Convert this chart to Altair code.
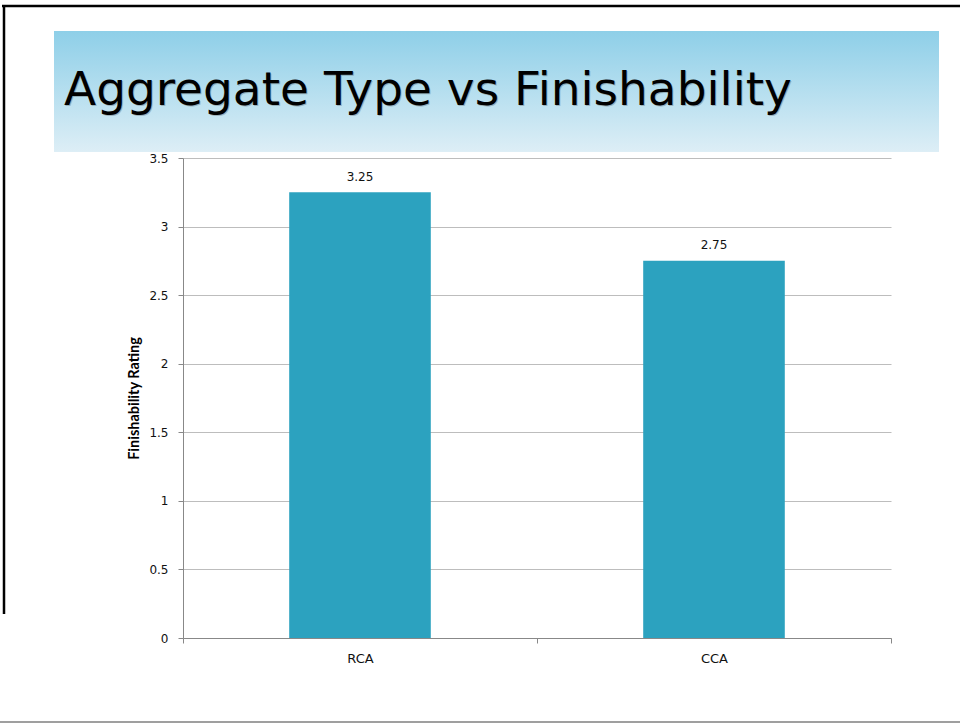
import altair as alt
import pandas as pd

# Chart content
aggregates = ["RCA", "CCA"]
ratings = [3.25, 2.75]
rating_ticks = [0, 0.5, 1, 1.5, 2, 2.5, 3, 3.5]
slide_title = "Aggregate Type vs Finishability"
rating_title = "Finishability Rating"

df = pd.DataFrame({"aggregate": aggregates, "rating": ratings})
title_df = pd.DataFrame({"label": [slide_title]})

# Plot area geometry inside the 960x723 slide
PLOT_W, PLOT_H = 708, 480
PAD = {"left": 183, "top": 158, "right": 69, "bottom": 85}

BAR_COLOR = "#2ca2bf"
AXIS_GREY = "#888888"
TEXT_FONT = "DejaVu Sans"

x_enc = alt.X(
    "aggregate:N",
    sort=aggregates,
    scale=alt.Scale(paddingInner=0, paddingOuter=0),
    axis=alt.Axis(
        title=None,
        labelAngle=0,
        tickBand="extent",
        tickSize=5,
        tickColor=AXIS_GREY,
        domainColor=AXIS_GREY,
        labelPadding=9,
        labelFontSize=13,
        labelFont=TEXT_FONT,
        labelColor="#111111",
        grid=False,
    ),
)

y_enc = alt.Y(
    "rating:Q",
    scale=alt.Scale(domain=[0, 3.5], nice=False),
    axis=alt.Axis(
        values=rating_ticks,
        format="~g",
        title=rating_title,
        titleFont="Lato",
        titleFontWeight="bold",
        titleFontSize=14.5,
        titleColor="#000000",
        titlePadding=7,
        labelFont=TEXT_FONT,
        labelFontSize=12,
        labelColor="#111111",
        labelPadding=10,
        tickSize=5,
        tickColor=AXIS_GREY,
        domainColor=AXIS_GREY,
        gridColor="#bdbdbd",
    ),
)

# Title banner with a vertical light-blue gradient
banner = alt.Chart(title_df).mark_rect(
    fill=alt.LinearGradient(
        gradient="linear",
        stops=[
            alt.GradientStop(offset=0, color="#8ecfe8"),
            alt.GradientStop(offset=1, color="#ddeef6"),
        ],
        x1=0, x2=0, y1=0, y2=1,
    )
).encode(
    x=alt.value(-129), x2=alt.value(756),
    y=alt.value(-127), y2=alt.value(-6),
)

# Slide frame lines
frame_top = alt.Chart(title_df).mark_rule(color="#000000", strokeWidth=2.5).encode(
    x=alt.value(-181), x2=alt.value(777), y=alt.value(-152)
)
frame_left = alt.Chart(title_df).mark_rule(color="#000000", strokeWidth=2.5).encode(
    x=alt.value(-179), y=alt.value(-153), y2=alt.value(456)
)
frame_bottom = alt.Chart(title_df).mark_rule(color="#7f7f7f", strokeWidth=1.5).encode(
    x=alt.value(-183), x2=alt.value(777), y=alt.value(564)
)

bars = alt.Chart(df).mark_bar(
    color=BAR_COLOR, width=alt.RelativeBandSize(0.4)
).encode(x=x_enc, y=y_enc)

value_labels = alt.Chart(df).mark_text(
    dy=-11.5, baseline="alphabetic", fontSize=12, font=TEXT_FONT, color="#111111"
).encode(
    x=alt.X("aggregate:N", sort=aggregates),
    y="rating:Q",
    text=alt.Text("rating:Q", format=".2f"),
)

title_shadow = alt.Chart(title_df).mark_text(
    align="left", baseline="alphabetic", fontSize=47, font=TEXT_FONT,
    color="#444444", opacity=0.3,
).encode(x=alt.value(-118), y=alt.value(-52), text="label:N")

title_text = alt.Chart(title_df).mark_text(
    align="left", baseline="alphabetic", fontSize=47, font=TEXT_FONT,
    color="#000000",
).encode(x=alt.value(-119), y=alt.value(-53), text="label:N")

chart = (
    alt.layer(banner, frame_top, frame_left, frame_bottom, bars, value_labels,
              title_shadow, title_text)
    .properties(
        width=PLOT_W,
        height=PLOT_H,
        autosize=alt.AutoSizeParams(type="none"),
        padding=PAD,
        background="#ffffff",
    )
    .configure_view(stroke=None)
)

chart.save("out.html", embed_options={"renderer": "svg", "actions": False})
